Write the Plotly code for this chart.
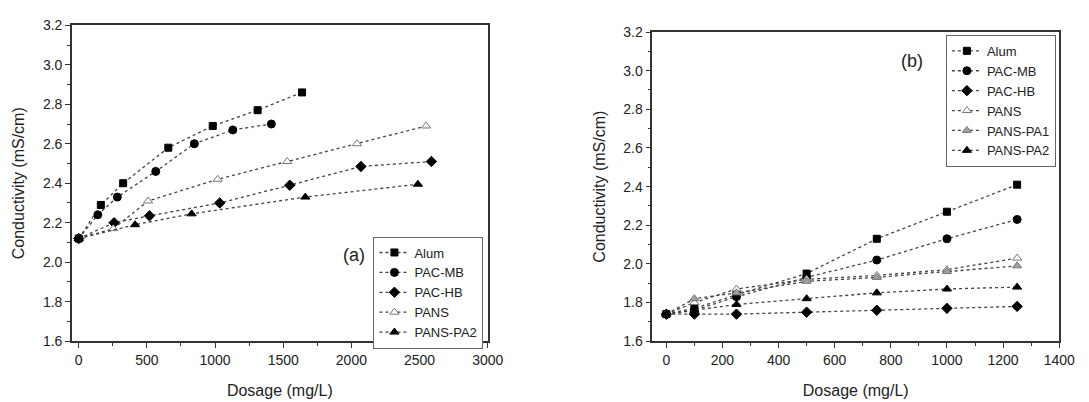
import plotly.graph_objects as go

# ---------------- Panel (a) data ----------------
a_alum_x = [0, 162, 326, 657, 983, 1312, 1638]
a_alum_y = [2.12, 2.29, 2.40, 2.58, 2.69, 2.77, 2.86]
a_pacmb_x = [0, 140, 283, 565, 848, 1130, 1413]
a_pacmb_y = [2.12, 2.24, 2.33, 2.46, 2.60, 2.67, 2.70]
a_pachb_x = [0, 259, 519, 1034, 1548, 2070, 2587]
a_pachb_y = [2.12, 2.20, 2.235, 2.30, 2.39, 2.485, 2.51]
a_pans_x = [0, 254, 509, 1019, 1529, 2041, 2548]
a_pans_y = [2.12, 2.17, 2.31, 2.42, 2.51, 2.60, 2.69]
a_pa2_x = [0, 413, 828, 1662, 2488]
a_pa2_y = [2.12, 2.19, 2.245, 2.33, 2.395]

# ---------------- Panel (b) data ----------------
b_x = [0, 100, 250, 500, 750, 1000, 1250]
b_alum = [1.74, 1.77, 1.84, 1.95, 2.13, 2.27, 2.41]
b_pacmb = [1.74, 1.76, 1.83, 1.93, 2.02, 2.13, 2.23]
b_pachb = [1.74, 1.74, 1.74, 1.75, 1.76, 1.77, 1.78]
b_pans = [1.74, 1.80, 1.87, 1.92, 1.94, 1.97, 2.03]
b_pa1 = [1.74, 1.82, 1.85, 1.91, 1.93, 1.96, 1.99]
b_pa2 = [1.74, 1.76, 1.79, 1.82, 1.85, 1.87, 1.88]

LINE = dict(color="#444444", width=1.3, dash="dot")
styles = {
    "Alum": dict(symbol="square", color="black", size=7, line=dict(color="black", width=1)),
    "PAC-MB": dict(symbol="circle", color="black", size=8, line=dict(color="black", width=1)),
    "PAC-HB": dict(symbol="diamond", color="black", size=8, line=dict(color="black", width=1)),
    "PANS": dict(symbol="triangle-up", color="white", size=8, line=dict(color="#777777", width=1)),
    "PANS-PA1": dict(symbol="triangle-up", color="#a0a0a0", size=8, line=dict(color="#777777", width=1)),
    "PANS-PA2": dict(symbol="triangle-up", color="black", size=8, line=dict(color="black", width=1)),
}

fig = go.Figure()

def add(name, x, y, xa, ya, leg):
    fig.add_trace(go.Scatter(x=x, y=y, name=name, mode="lines+markers",
                             line=LINE, marker=styles[name],
                             xaxis=xa, yaxis=ya, legend=leg))

add("Alum", a_alum_x, a_alum_y, "x", "y", "legend")
add("PAC-MB", a_pacmb_x, a_pacmb_y, "x", "y", "legend")
add("PAC-HB", a_pachb_x, a_pachb_y, "x", "y", "legend")
add("PANS", a_pans_x, a_pans_y, "x", "y", "legend")
add("PANS-PA2", a_pa2_x, a_pa2_y, "x", "y", "legend")

add("Alum", b_x, b_alum, "x2", "y2", "legend2")
add("PAC-MB", b_x, b_pacmb, "x2", "y2", "legend2")
add("PAC-HB", b_x, b_pachb, "x2", "y2", "legend2")
add("PANS", b_x, b_pans, "x2", "y2", "legend2")
add("PANS-PA1", b_x, b_pa1, "x2", "y2", "legend2")
add("PANS-PA2", b_x, b_pa2, "x2", "y2", "legend2")

W, H = 1089, 402
FONT = "Liberation Sans, Arial, sans-serif"
TXT = "#222222"
axis_common = dict(showline=True, linecolor="#333333", linewidth=1.5, mirror=True,
                   ticks="outside", ticklen=5, tickwidth=1.2, tickcolor="#333333",
                   showgrid=False, zeroline=False,
                   tickfont=dict(family=FONT, size=14, color=TXT),
                   title_font=dict(family=FONT, size=16, color=TXT))
minor_x = dict(ticks="outside", ticklen=3, tickcolor="#333333")

fig.update_layout(
    width=W, height=H, margin=dict(l=0, r=0, t=0, b=0),
    paper_bgcolor="white", plot_bgcolor="white",
    font=dict(family=FONT, color=TXT),
    xaxis=dict(axis_common, domain=[73 / W, 495 / W], range=[-50, 3000], dtick=500,
               minor=dict(minor_x, dtick=250),
               title=dict(text="Dosage (mg/L)", standoff=18), anchor="y"),
    yaxis=dict(axis_common, domain=[55 / H, 384 / H], range=[1.6, 3.2], dtick=0.2,
               tickformat=".1f", minor=dict(minor_x, dtick=0.1),
               title=dict(text="Conductivity (mS/cm)", standoff=14), anchor="x"),
    xaxis2=dict(axis_common, domain=[662 / W, 1075 / W], range=[-50, 1400], dtick=200,
                minor=dict(minor_x, dtick=100),
                title=dict(text="Dosage (mg/L)", standoff=18), anchor="y2"),
    yaxis2=dict(axis_common, domain=[55 / H, 377 / H], range=[1.6, 3.2], dtick=0.2,
                tickformat=".1f", minor=dict(minor_x, dtick=0.1),
                title=dict(text="Conductivity (mS/cm)", standoff=14), anchor="x2"),
    legend=dict(x=379 / W, y=1 - 238 / H, xanchor="left", yanchor="top",
                bordercolor="#666666", borderwidth=1, bgcolor="white",
                font=dict(family=FONT, size=13, color=TXT),
                tracegroupgap=0, itemwidth=30),
    legend2=dict(x=960 / W, y=1 - 28 / H, xanchor="left", yanchor="top",
                 bordercolor="#666666", borderwidth=1, bgcolor="white",
                 font=dict(family=FONT, size=13, color=TXT),
                 tracegroupgap=0, itemwidth=30),
    annotations=[
        dict(text="(a)", x=372 / W, y=1 - 257 / H, xref="paper", yref="paper",
             xanchor="right", showarrow=False, font=dict(family=FONT, size=18, color=TXT)),
        dict(text="(b)", x=939 / W, y=1 - 43 / H, xref="paper", yref="paper",
             showarrow=False, font=dict(family=FONT, size=18, color=TXT)),
    ],
)

fig.write_html("out.html")
